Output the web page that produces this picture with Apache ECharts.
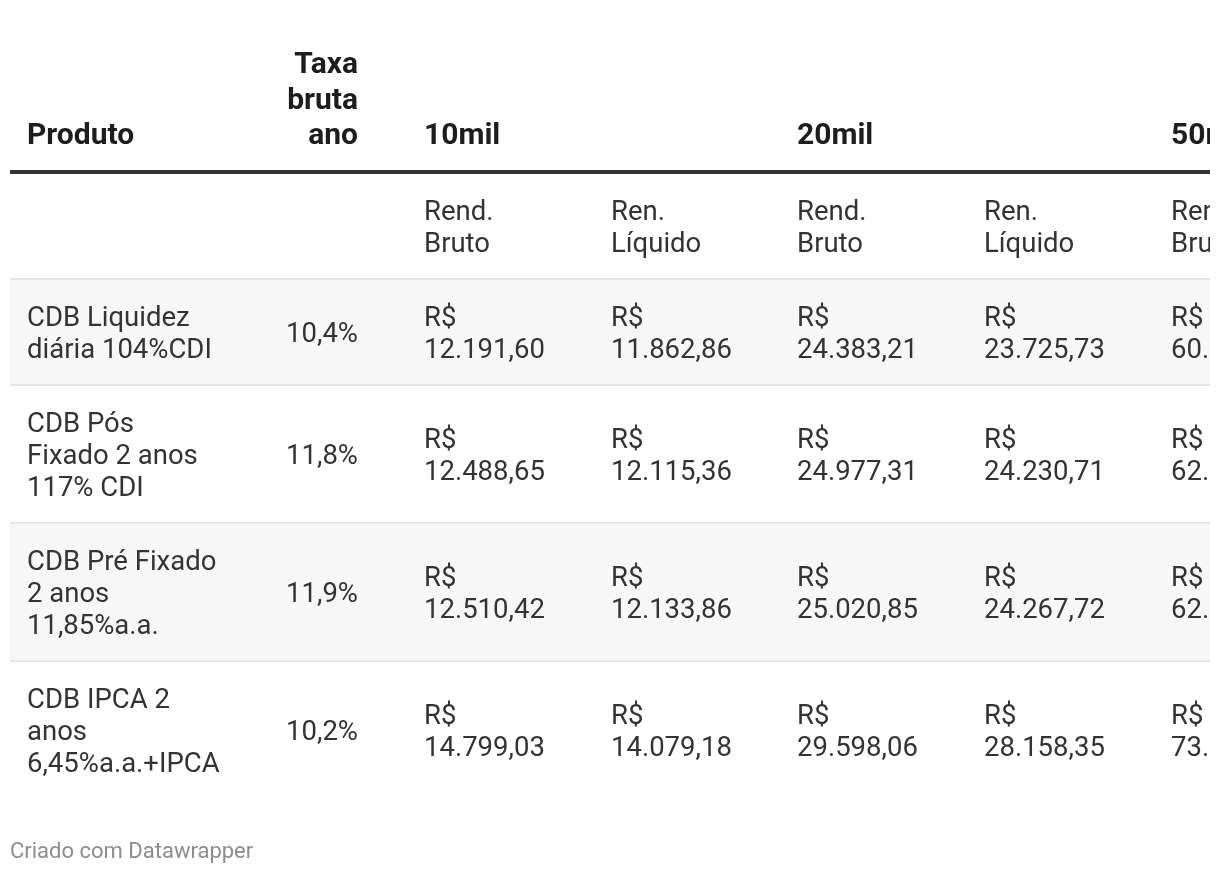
<!DOCTYPE html>
<html>
<head>
<meta charset="utf-8">
<script src="https://cdn.jsdelivr.net/npm/echarts@6/dist/echarts.min.js"></script>
<style>
html,body{margin:0;padding:0;background:#fff;width:1220px;height:874px;overflow:hidden;}
#chart{position:absolute;left:0;top:0;width:1210px;height:874px;}
</style>
</head>
<body>
<div id="chart"></div>
<script>
// ---- data ----
var headerProduto = 'Produto';
var headerTaxa = 'Taxa\nbruta\nano';
var amountGroups = ['10mil', '20mil', '50mil'];
var subHeaders = ['Rend.\nBruto', 'Ren.\nLíquido'];
var products = [
  'CDB Liquidez\ndiária 104%CDI',
  'CDB Pós\nFixado 2 anos\n117% CDI',
  'CDB Pré Fixado\n2 anos\n11,85%a.a.',
  'CDB IPCA 2\nanos\n6,45%a.a.+IPCA'
];
var taxas = ['10,4%', '11,8%', '11,9%', '10,2%'];
var bruto10 = ['12.191,60', '12.488,65', '12.510,42', '14.799,03'];
var liquido10 = ['11.862,86', '12.115,36', '12.133,86', '14.079,18'];
var bruto20 = ['24.383,21', '24.977,31', '25.020,85', '29.598,06'];
var liquido20 = ['23.725,73', '24.230,71', '24.267,72', '28.158,35'];
var bruto50 = ['60.958,02', '62.443,27', '62.552,12', '73.995,15'];
var liquido50 = ['59.314,31', '60.576,78', '60.669,30', '70.395,91'];
var footer = 'Criado com Datawrapper';

// ---- layout (style only) ----
var FONT = 'Roboto, "Noto Sans", sans-serif';
var bodySize = 27.5, lineH = 32, headSize = 30, headLineH = 35.5;
var left = 10, right = 1240;
var colX = [27, 358, 424, 611, 797, 984, 1171, 1358, 1545];
var headerBase = 136.5;   // center of last header line
var ruleY = 172;
var padV = 20;
var sepH = 2;
var textDy = 3;
var valueCols = [bruto10, liquido10, bruto20, liquido20, bruto50, liquido50];

var els = [];
function nLines(s){ return s.split('\n').length; }
function txt(x, y, s, opt){
  opt = opt || {};
  els.push({
    type: 'text', x: x, y: y, silent: true,
    style: {
      text: s, fill: opt.fill || '#333',
      font: (opt.bold ? 'bold ' : '') + (opt.size || bodySize) + 'px ' + FONT,
      lineHeight: opt.lh || lineH,
      align: opt.align || 'left', verticalAlign: opt.va || 'middle'
    }
  });
}
function rect(x, y, w, h, fill){
  els.push({type:'rect', silent:true, shape:{x:x, y:y, width:w, height:h}, style:{fill:fill}});
}

// header
var headFill = '#1d1d1d';
txt(colX[0], headerBase, headerProduto, {bold:true, size:headSize, fill:headFill, va:'middle', lh:headLineH});
txt(colX[1], headerBase + headLineH/2, headerTaxa, {bold:true, size:headSize, fill:headFill, align:'right', va:'bottom', lh:headLineH});
amountGroups.forEach(function(g, i){
  txt(colX[2 + i*2], headerBase, g, {bold:true, size:headSize, fill:headFill, va:'middle', lh:headLineH});
});

// sub header row
var y = ruleY + 2;
var shH = nLines(subHeaders[0])*lineH + 2*padV;
for (var c = 0; c < valueCols.length; c++) {
  txt(colX[2 + c], y + shH/2 + textDy, subHeaders[c % 2]);
}
y += shH;
rect(left, y, right-left, sepH, '#e5e5e5');
y += sepH;

// body rows
products.forEach(function(p, r){
  var n = nLines(p);
  var h = n*lineH + 2*padV;
  if (r % 2 === 0) rect(left, y, right-left, h, '#f7f7f7');
  var cy = y + h/2 + textDy;
  txt(colX[0], cy, p);
  txt(colX[1], cy, taxas[r], {align:'right'});
  for (var c = 0; c < valueCols.length; c++) {
    txt(colX[2 + c], cy, 'R$\n' + valueCols[c][r]);
  }
  y += h;
  if (r < products.length - 1) { rect(left, y, right-left, sepH, '#e5e5e5'); y += sepH; }
});

// thick rule
rect(left, ruleY - 2, right-left, 4, '#333333');

// footer
txt(10, 852, footer, {size:22, fill:'#8c8c8c'});

var chart = echarts.init(document.getElementById('chart'), null, {renderer:'canvas'});
chart.setOption({
  backgroundColor: '#ffffff',
  animation: false,
  graphic: { elements: els }
});
</script>
</body>
</html>
